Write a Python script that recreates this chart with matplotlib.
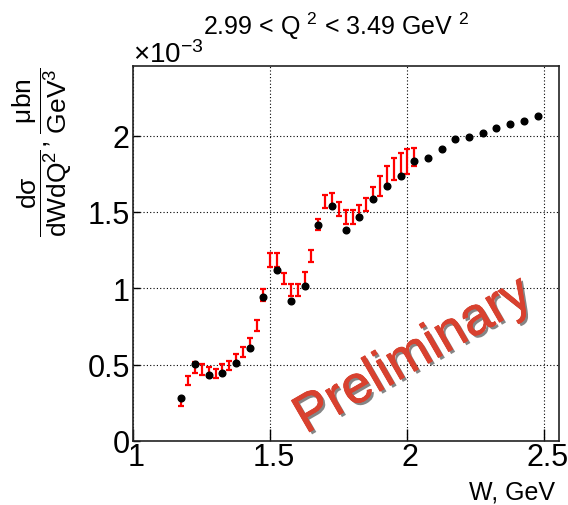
import numpy as np
import matplotlib
matplotlib.use("Agg")
import matplotlib.pyplot as plt
import matplotlib.patheffects as pe
import matplotlib.transforms as mtrans
from matplotlib.ticker import FuncFormatter

plt.rcParams['font.family'] = ['Liberation Sans', 'DejaVu Sans']
plt.rcParams['mathtext.fontset'] = 'custom'
plt.rcParams['mathtext.rm'] = 'Liberation Sans'
plt.rcParams['mathtext.it'] = 'Liberation Sans:italic'
plt.rcParams['mathtext.bf'] = 'Liberation Sans:bold'

# cross section in units of 1e-3 ubn/GeV^3
w_black = [1.175, 1.225, 1.275, 1.325, 1.375, 1.425, 1.475, 1.525, 1.575,
           1.625, 1.675, 1.725, 1.775, 1.825, 1.875, 1.925, 1.975, 2.025,
           2.075, 2.125, 2.175, 2.225, 2.275, 2.325, 2.375, 2.425, 2.475]
xs_black = [0.283, 0.501, 0.429, 0.444, 0.514, 0.608, 0.945, 1.119, 0.914,
            1.015, 1.417, 1.539, 1.379, 1.465, 1.587, 1.672, 1.733, 1.834,
            1.853, 1.910, 1.976, 1.991, 2.020, 2.048, 2.076, 2.098, 2.126]

w_red = [1.175, 1.200, 1.225, 1.250, 1.275, 1.300, 1.325, 1.350, 1.375,
         1.400, 1.425, 1.450, 1.475, 1.500, 1.525, 1.550, 1.575, 1.600,
         1.625, 1.650, 1.675, 1.700, 1.725, 1.750, 1.775, 1.800, 1.825,
         1.850, 1.875, 1.900, 1.925, 1.950, 1.975, 2.000, 2.025]
xs_red = [0.250, 0.396, 0.480, 0.469, 0.451, 0.440, 0.475, 0.495, 0.540,
          0.584, 0.639, 0.757, 0.955, 1.185, 1.185, 1.063, 0.988, 0.988,
          1.060, 1.211, 1.417, 1.567, 1.576, 1.519, 1.469, 1.469, 1.510,
          1.550, 1.622, 1.670, 1.731, 1.779, 1.812, 1.830, 1.862]
err_red = [0.022, 0.028, 0.035, 0.035, 0.031, 0.030, 0.027, 0.030, 0.027,
           0.033, 0.033, 0.036, 0.039, 0.047, 0.047, 0.036, 0.041, 0.041,
           0.044, 0.039, 0.035, 0.044, 0.046, 0.044, 0.047, 0.047, 0.037,
           0.044, 0.040, 0.065, 0.069, 0.072, 0.075, 0.082, 0.060]

fig = plt.figure(figsize=(5.68, 5.06), dpi=100)
ax = fig.add_axes([0.2347, 0.1265, 0.7489, 0.7411])

ax.errorbar(w_red, xs_red, yerr=err_red, fmt='none', ecolor='#ff0000',
            elinewidth=1.6, capsize=2.2, capthick=1.6, zorder=3)
ax.plot(w_black, xs_black, 'o', color='black', markersize=4.8, zorder=4)

ax.set_xlim(1.0, 2.552)
ax.set_ylim(0.0, 2.456)
ax.set_xticks([1.0, 1.5, 2.0, 2.5])
ax.set_yticks([0.0, 0.5, 1.0, 1.5, 2.0])
fmt = FuncFormatter(lambda v, p: '%g' % v)
ax.xaxis.set_major_formatter(fmt)
ax.yaxis.set_major_formatter(fmt)
ax.tick_params(axis='x', direction='in', length=8.5, width=1.0, labelsize=22, pad=1)
ax.tick_params(axis='y', direction='in', length=5, width=1.0, labelsize=22, pad=2.5)
ax.grid(True, color='black', linestyle=(0, (1, 2)), linewidth=0.8)
for s in ax.spines.values():
    s.set_linewidth(1.2)
    s.set_color('#222222')

# x tick labels sit a little right of their ticks, as in the original
shift = mtrans.ScaledTranslation(3 / 100, 0, fig.dpi_scale_trans)
for lab in ax.get_xticklabels():
    lab.set_transform(lab.get_transform() + shift)

fig.text(133 / 568, 1 - 63 / 506, '×10$^{-3}$', fontsize=20, ha='left', va='baseline')
fig.text(203 / 568, 1 - 35 / 506, '2.99 < Q $^{2}$ < 3.49 GeV $^{2}$', fontsize=18,
         ha='left', va='baseline')
fig.text(555 / 568, 1 - 500 / 506, 'W, GeV', fontsize=18, ha='right', va='baseline')
fig.text(42 / 568, 1 - 67 / 506,
         r'$\dfrac{\mathrm{d\sigma}}{\mathrm{dWdQ^{2}}}\mathrm{,}\ \dfrac{\mathrm{\mu bn}}{\mathrm{GeV^{3}}}$',
         fontsize=19, rotation=90, ha='center', va='top')

ax.text(413 / 568, 1 - 357 / 506, 'Preliminary', transform=fig.transFigure,
        fontsize=38, rotation=30, color='#d8412f', ha='center', va='center',
        rotation_mode='anchor', zorder=5,
        path_effects=[pe.withSimplePatchShadow(offset=(1.8, -1.8), shadow_rgbFace='#222222', alpha=0.55),
                      pe.withStroke(linewidth=0.6, foreground='#d8412f')])

fig.savefig('out.png', dpi=100)
